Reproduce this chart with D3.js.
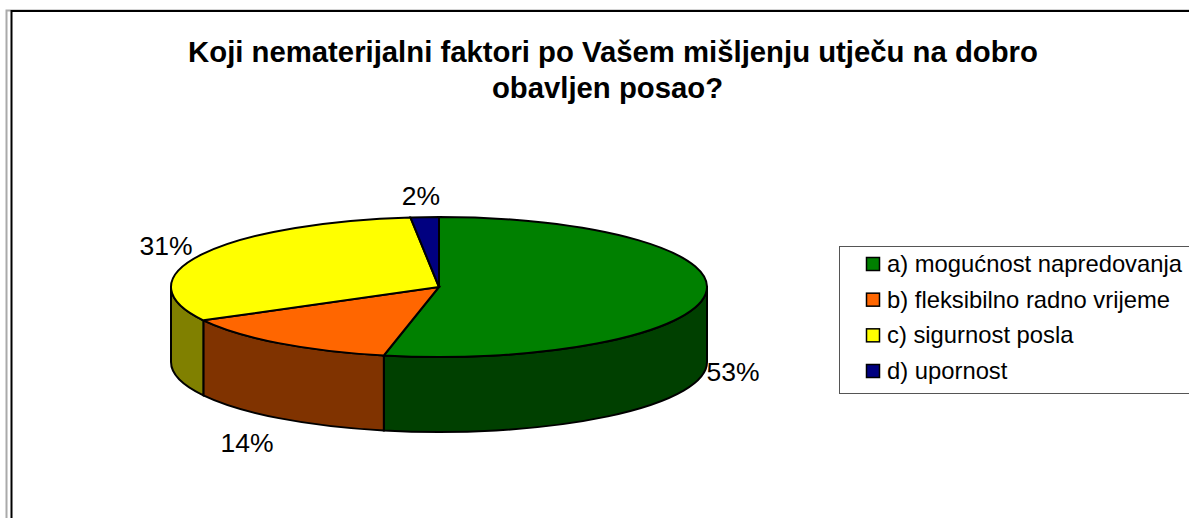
<!DOCTYPE html>
<html>
<head>
<meta charset="utf-8">
<script src="https://cdn.jsdelivr.net/npm/d3@7"></script>
<style>
  html, body { margin: 0; padding: 0; background: #fff; overflow: hidden; }
  text { font-family: "Liberation Sans", Arial, sans-serif; fill: #000; }
</style>
</head>
<body>
<svg id="chart" width="1189" height="518"></svg>
<script>
const titleLines = ["Koji nematerijalni faktori po Vašem mišljenju utječu na dobro", "obavljen posao?"];
const categories = ["a) mogućnost napredovanja", "b) fleksibilno radno vrijeme", "c) sigurnost posla", "d) upornost"];
const values = [53.3, 13.8, 31.2, 1.7];
const topColors = ["#008000", "#ff6600", "#ffff00", "#000080"];
const sideColors = ["#004000", "#803300", "#808000", "#000040"];

const width = 1189, height = 518;
const svg = d3.select("#chart");

// Outer frame, only top and left show inside the crop
svg.append("path").attr("d", `M6.5,${height} V10.5 H${width}`)
  .attr("fill", "none").attr("stroke", "#aaa").attr("stroke-width", 2);
svg.append("path").attr("d", `M11.5,${height} V11 H${width}`)
  .attr("fill", "none").attr("stroke", "#000").attr("stroke-width", 2);

// Title
const titleX = [613, 607.5];
const titleY = [62, 98];
svg.append("g").selectAll("text").data(titleLines).join("text")
  .attr("x", (d, i) => titleX[i])
  .attr("y", (d, i) => titleY[i])
  .attr("text-anchor", "middle")
  .attr("font-size", 29.3)
  .attr("font-weight", "bold")
  .text(d => d);

// Pie geometry: tilted disc
const cx = 439, cy = 287, rx = 268, ry = 70, depth = 75;
const pie = d3.pie().sort(null).value(d => d)(values);
const px = a => cx + rx * Math.sin(a);
const py = a => cy - ry * Math.cos(a);

// Side walls, front half only
const front = [Math.PI / 2, Math.PI * 1.5];
const sides = svg.append("g");
pie.forEach((s, i) => {
  const a0 = Math.max(s.startAngle, front[0]);
  const a1 = Math.min(s.endAngle, front[1]);
  if (a1 <= a0) return;
  sides.append("path")
    .attr("d", `M${px(a0)},${py(a0)} A${rx},${ry} 0 0 1 ${px(a1)},${py(a1)}` +
      ` L${px(a1)},${py(a1) + depth} A${rx},${ry} 0 0 0 ${px(a0)},${py(a0) + depth} Z`)
    .attr("fill", sideColors[i])
    .attr("stroke", "#000")
    .attr("stroke-width", 2);
});

// Top face, drawn as a circle arc squashed into an ellipse
const arc = d3.arc().innerRadius(0).outerRadius(rx);
svg.append("g")
  .attr("transform", `translate(${cx},${cy}) scale(1,${ry / rx})`)
  .selectAll("path").data(pie).join("path")
  .attr("d", arc)
  .attr("fill", (d, i) => topColors[i])
  .attr("stroke", "#000")
  .attr("stroke-width", 2)
  .attr("vector-effect", "non-scaling-stroke");

// Percent labels
const labelX = [733, 247, 166, 421];
const labelY = [381, 452, 255, 205];
svg.append("g").selectAll("text").data(pie).join("text")
  .attr("x", (d, i) => labelX[i])
  .attr("y", (d, i) => labelY[i])
  .attr("text-anchor", "middle")
  .attr("font-size", 26.5)
  .text(d => `${Math.round(d.value)}%`);

// Legend
svg.append("rect").attr("x", 839.5).attr("y", 246.5)
  .attr("width", 360).attr("height", 147)
  .attr("fill", "#fff").attr("stroke", "#555").attr("stroke-width", 1);
const legendY = d3.scalePoint().domain(categories).range([264, 371]);
const legend = svg.append("g").selectAll("g").data(categories).join("g")
  .attr("transform", d => `translate(866,${legendY(d)})`);
legend.append("rect")
  .attr("x", 0.5).attr("y", -6.5).attr("width", 13).attr("height", 13)
  .attr("fill", (d, i) => topColors[i])
  .attr("stroke", "#000").attr("stroke-width", 1.5);
legend.append("text")
  .attr("x", 21).attr("y", 8)
  .attr("font-size", 23.8)
  .text(d => d);
</script>
</body>
</html>
